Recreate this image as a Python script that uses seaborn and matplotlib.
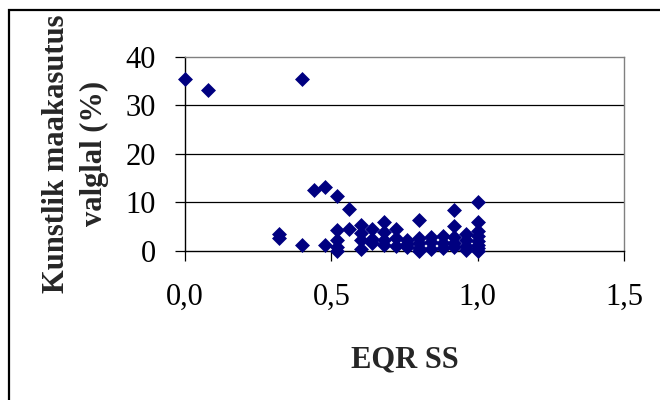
import matplotlib
matplotlib.use("Agg")
import matplotlib.pyplot as plt
from matplotlib.patches import Rectangle
import seaborn as sns
import pandas as pd

# EQR SS values and artificial land use (%)
eqr = [0.00, 0.08, 0.32, 0.32, 0.40, 0.40, 0.44, 0.48, 0.48,
       0.52, 0.52, 0.52, 0.52, 0.52, 0.56, 0.56,
       0.60, 0.60, 0.60, 0.60, 0.64, 0.64, 0.64,
       0.68, 0.68, 0.68, 0.68, 0.72, 0.72, 0.72,
       0.76, 0.76, 0.76, 0.80, 0.80, 0.80, 0.80, 0.80,
       0.84, 0.84, 0.84, 0.88, 0.88, 0.88,
       0.92, 0.92, 0.92, 0.92, 0.92, 0.96, 0.96, 0.96, 0.96,
       1.00, 1.00, 1.00, 1.00, 1.00, 1.00, 1.00, 1.00]
land = [35.3, 33.2, 3.4, 2.6, 35.3, 1.2, 12.5, 13.1, 1.2,
        11.2, 4.3, 2.2, 0.8, 0.0, 8.7, 4.4,
        5.3, 3.6, 2.2, 0.4, 4.4, 2.4, 1.6,
        6.0, 3.8, 2.2, 1.2, 4.4, 2.6, 1.0,
        2.2, 1.4, 0.8, 6.3, 2.6, 1.6, 0.6, 0.0,
        2.8, 1.8, 0.4, 3.0, 1.6, 0.6,
        8.4, 5.0, 2.8, 1.6, 0.8, 3.4, 2.2, 1.0, 0.2,
        10.0, 6.0, 4.0, 3.0, 2.0, 1.2, 0.6, 0.0]

x_ticks = [0.0, 0.5, 1.0, 1.5]
x_tick_labels = ["0,0", "0,5", "1,0", "1,5"]
y_ticks = [0, 10, 20, 30, 40]
y_tick_labels = ["0", "10", "20", "30", "40"]

df = pd.DataFrame({"EQR SS": eqr, "land": land})

sns.set_theme(style="white")
plt.rcParams["font.family"] = ["Liberation Serif", "DejaVu Serif"]

fig = plt.figure(figsize=(6.6, 4.0), dpi=100)
ax = fig.add_axes([185 / 660, 1 - 250.7 / 400, (624 - 185) / 660, (250.7 - 56.7) / 400])

# outer chart frame
fig.patches.append(Rectangle((8.5 / 660, -0.1), 1.2, 1.1 - 10 / 400,
                             transform=fig.transFigure, fill=False,
                             edgecolor="black", linewidth=1.6))

for yv in y_ticks[1:-1]:
    ax.axhline(yv, color="black", linewidth=0.9, zorder=1)

sns.scatterplot(data=df, x="EQR SS", y="land", marker="D", color="#000080",
                s=58, linewidth=0, ax=ax, zorder=3, clip_on=False)

ax.set_xlim(0, 1.5)
ax.set_ylim(0, 40)
ax.set_xticks(x_ticks)
ax.set_xticklabels(x_tick_labels)
ax.set_yticks(y_ticks)
ax.set_yticklabels(y_tick_labels)
ax.tick_params(axis="both", labelsize=22, colors="black", length=7, width=0.9,
               direction="out", bottom=True, left=True)
ax.tick_params(axis="x", pad=16)
ax.tick_params(axis="y", pad=14)

for side in ["top", "right"]:
    ax.spines[side].set_visible(True)
    ax.spines[side].set_color("#808080")
    ax.spines[side].set_linewidth(1.0)
for side in ["left", "bottom"]:
    ax.spines[side].set_color("black")
    ax.spines[side].set_linewidth(1.0)

ax.set_xlabel("EQR SS", fontsize=22, fontweight="bold", labelpad=24)
ax.set_ylabel("Kunstlik maakasutus\nvalglal (%)", fontsize=22, fontweight="bold",
              labelpad=12, linespacing=1.38)

fig.savefig("out.png", dpi=100)
